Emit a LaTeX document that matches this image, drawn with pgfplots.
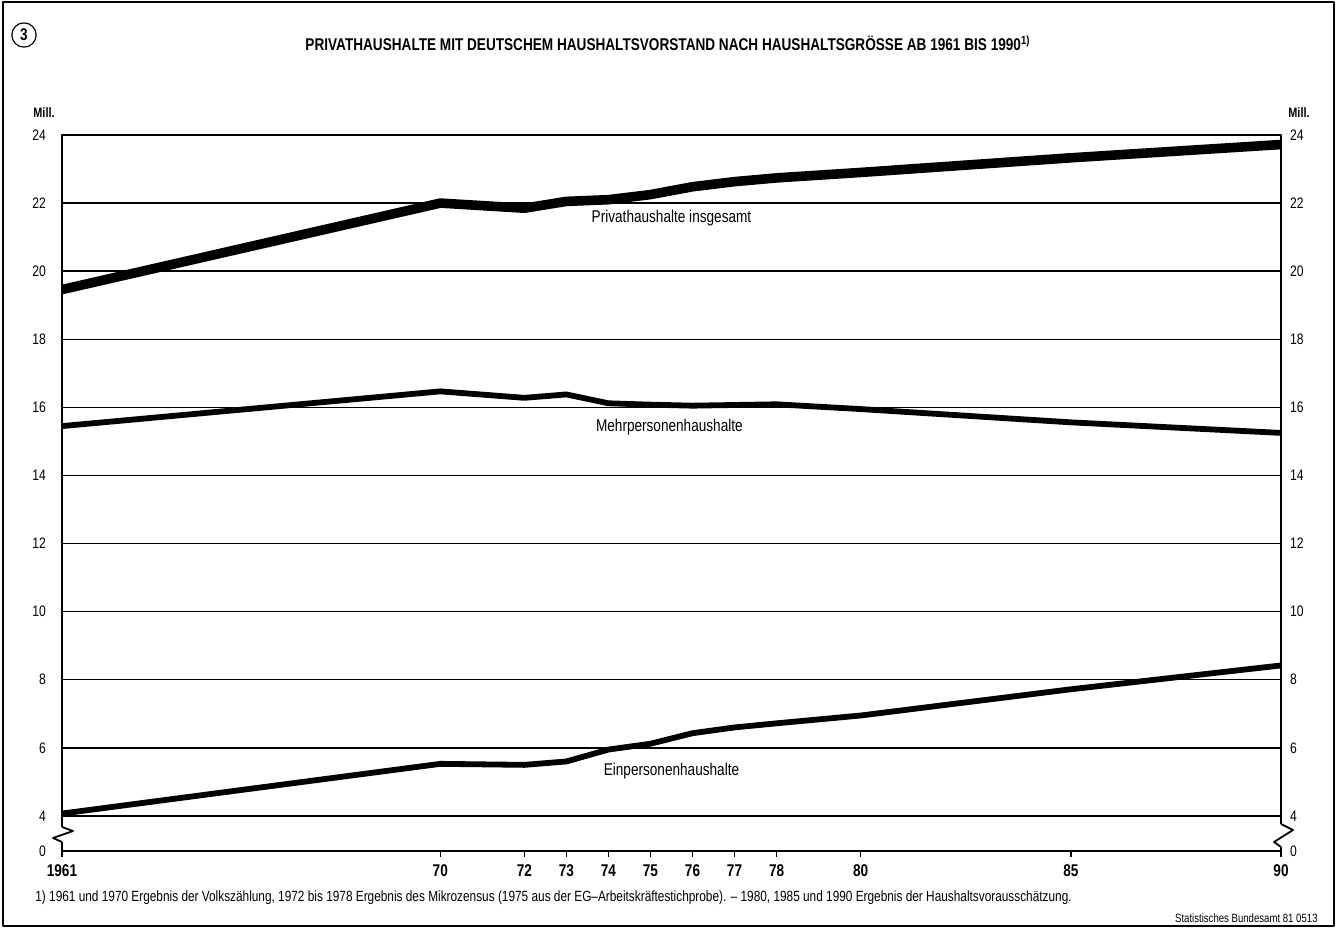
\documentclass[border=0pt]{standalone}
\usepackage{fontspec}
\setmainfont{Liberation Sans}[FakeStretch=0.8]
\usepackage{pgfplots}
\usepackage{pgfplotstable}
\pgfplotsset{compat=1.18}

% Mill. Haushalte; Jahre 1961..1990
\pgfplotstableread{
year total mehr ein
1961 19.46 15.45 4.07
1970 22.00 16.47 5.53
1972 21.85 16.28 5.50
1973 22.05 16.38 5.60
1974 22.10 16.12 5.95
1975 22.25 16.08 6.12
1976 22.48 16.05 6.43
1977 22.63 16.07 6.60
1978 22.74 16.09 6.72
1980 22.90 15.95 6.95
1985 23.33 15.56 7.72
1990 23.72 15.25 8.42
}\hh

\begin{document}
\begin{tikzpicture}[line join=round]
\begin{axis}[
  at={(0,0)}, anchor=south west,
  scale only axis, width=609.5pt, height=358pt,
  xmin=1961, xmax=1990, ymin=2.97, ymax=24,
  axis line style={line width=1pt},
  xtick={1961,1970,1972,1973,1974,1975,1976,1977,1978,1980,1985,1990},
  xticklabels={1961,70,72,73,74,75,76,77,78,80,85,90},
  xtick pos=bottom, tick align=outside,
  x tick style={line width=0.8pt, black}, major tick length=3pt,
  ytick={2.97,4,6,...,24},
  yticklabels={0,4,6,8,10,12,14,16,18,20,22,24},
  y tick style={draw=none},
  ymajorgrids, grid style={line width=0.7pt, black},
  x tick label style={font=\fontsize{8.5}{10}\selectfont\bfseries, yshift=-0.5pt},
  y tick label style={font=\fontsize{7.6}{9}\selectfont, xshift=-1.5pt},
  /pgf/number format/assume math mode=true,
  clip=false,
]
\addplot[line width=4.8pt, black] table[x=year, y=total] {\hh};
\addplot[line width=2.9pt, black] table[x=year, y=mehr] {\hh};
\addplot[line width=2.9pt, black] table[x=year, y=ein] {\hh};
\node[font=\fontsize{8.5}{10}\selectfont] at (axis cs:1975.5,21.56) {Privathaushalte insgesamt};
\node[font=\fontsize{8.5}{10}\selectfont] at (axis cs:1975.45,15.41) {Mehrpersonenhaushalte};
\node[font=\fontsize{8.5}{10}\selectfont] at (axis cs:1975.5,5.32) {Einpersonenhaushalte};
\end{axis}
\begin{axis}[
  at={(0,0)}, anchor=south west,
  scale only axis, width=609.5pt, height=358pt,
  xmin=1961, xmax=1990, ymin=2.97, ymax=24,
  hide x axis, axis y line*=right,
  y axis line style={draw=none},
  ytick={2.97,4,6,...,24},
  yticklabels={0,4,6,8,10,12,14,16,18,20,22,24},
  y tick style={draw=none},
  y tick label style={font=\fontsize{7.6}{9}\selectfont, xshift=1pt},
  /pgf/number format/assume math mode=true,
]
\end{axis}
% Achsenbruch
\draw[white, line width=3pt] (0,4.5pt) -- (0,12pt);
\draw[white, line width=3pt] (609.5pt,2pt) -- (609.5pt,13.5pt);
\draw[line width=0.9pt] (0,12pt) -- (5.5pt,10pt) -- (-4.5pt,6.5pt) -- (0,4.5pt);
\draw[line width=0.9pt] (609.5pt,13.5pt) -- (615.5pt,10.5pt) -- (606pt,4.5pt) -- (609.5pt,2pt);
% Texte
\node[font=\fontsize{6.8}{8}\selectfont\bfseries] at (-9pt,369pt) {Mill.};
\node[font=\fontsize{6.8}{8}\selectfont\bfseries] at (618.5pt,369pt) {Mill.};
\node[font=\fontsize{8.5}{10}\selectfont\bfseries] at (303pt,404pt)
  {PRIVATHAUSHALTE MIT DEUTSCHEM HAUSHALTSVORSTAND NACH HAUSHALTSGRÖSSE AB 1961 BIS 1990\textsuperscript{1)}};
\node[draw, circle, line width=0.6pt, inner sep=1.8pt, font=\fontsize{8.5}{10}\selectfont\bfseries] at (-19pt,408pt) {3};
\node[anchor=west, inner sep=0pt, font=\fontsize{7.4}{9}\selectfont] at (-13.5pt,-23.5pt)
  {1) 1961 und 1970 Ergebnis der Volkszählung, 1972 bis 1978 Ergebnis des Mikrozensus (1975 aus der EG–Arbeitskräftestichprobe). – 1980, 1985 und 1990 Ergebnis der Haushaltsvorausschätzung.};
\node[anchor=east, inner sep=0pt, font=\fontsize{6}{7}\selectfont] at (628pt,-33.5pt) {Statistisches Bundesamt 81 0513};
% Rahmen
\draw[line width=1pt] (-29.5pt,-37.5pt) rectangle (636pt,424.5pt);
\pgfresetboundingbox
\path[use as bounding box] (-31pt,-38.5pt) rectangle (638.5pt,425.5pt);
\end{tikzpicture}
\end{document}
